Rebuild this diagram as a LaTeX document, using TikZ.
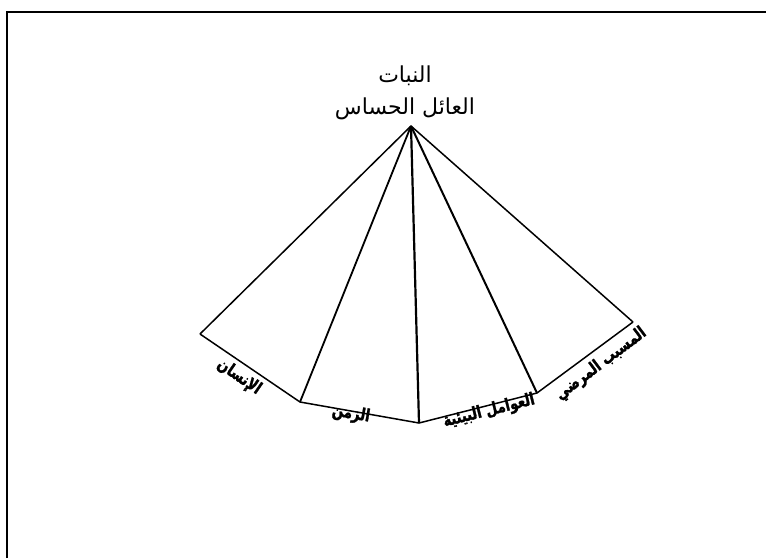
\documentclass[tikz,border=0pt]{standalone}
\usepackage{fontspec}
\newfontfamily\arabicfont[Script=Arabic]{DejaVu Sans}
\newfontfamily\labelfont[Script=Arabic, FakeStretch=0.78, FakeBold=1.5]{DejaVu Sans}
\TeXXeTstate=1
\begin{document}
\begin{tikzpicture}[x=1pt, y=-1pt, lbl/.style={font=\labelfont\bfseries\fontsize{17}{19}\selectfont, inner sep=0pt}, edge/.style={line width=1.5pt}]
        \useasboundingbox (0,0) rectangle (766,558);
        \draw[line width=2pt] (7,558) -- (7,12) -- (766,12);
        \node[align=center, font=\arabicfont\fontsize{22}{32}\selectfont] (host) at (405,93) {\beginR النبات\endR\\\beginR العائل الحساس\endR};
        \coordinate (top) at (411,126);
        \coordinate (a) at (200,334);
        \coordinate (b) at (300,402);
        \coordinate (c) at (419,423);
        \coordinate (d) at (537,393);
        \coordinate (e) at (633,322);
        \draw[edge] (top) -- (a);
        \draw[edge, line width=1.8pt] (top) -- (b);
        \draw[edge, line width=2.2pt] (top) -- (c);
        \draw[edge, line width=2pt] (top) -- (d);
        \draw[edge] (top) -- (e);
        \draw[edge] (a) -- (b) -- (c) -- (d) -- (e);
        \node[lbl, rotate=-34.6] (man) at (239,377) {\beginR الإنسان\endR};
        \node[lbl, rotate=-10] (time) at (351,414) {\beginR الزمن\endR};
        \node[lbl, rotate=14] (env) at (489,411) {\beginR العوامل البيئية\endR};
        \node[lbl, rotate=37] (path) at (601,364) {\beginR المسبب المرضي\endR};
    \end{tikzpicture}
\end{document}
